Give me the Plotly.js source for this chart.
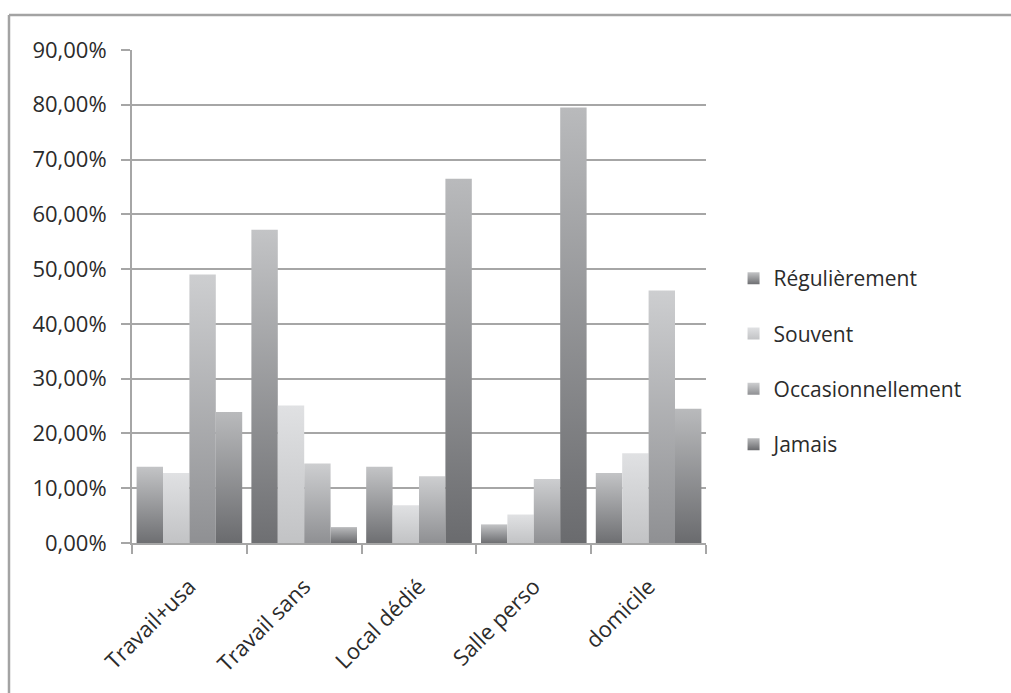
<!DOCTYPE html>
<html>
<head>
<meta charset="utf-8">
<script src="https://cdn.plot.ly/plotly-3.0.1.min.js"></script>
<style>
html,body{margin:0;padding:0;background:#fff;}
#chart{width:1011px;height:693px;}
</style>
</head>
<body>
<div id="chart"></div>
<script>
const categories = ["Travail+usa", "Travail sans", "Local dédié", "Salle perso", "domicile"];
const seriesNames = ["Régulièrement", "Souvent", "Occasionnellement", "Jamais"];
const regulierement = [0.139, 0.572, 0.139, 0.034, 0.128];
const souvent = [0.128, 0.251, 0.069, 0.052, 0.164];
const occasionnellement = [0.490, 0.145, 0.122, 0.117, 0.461];
const jamais = [0.239, 0.029, 0.665, 0.795, 0.245];
const yTicks = [0, 0.1, 0.2, 0.3, 0.4, 0.5, 0.6, 0.7, 0.8, 0.9];
const yTickLabels = ["0,00%", "10,00%", "20,00%", "30,00%", "40,00%", "50,00%", "60,00%", "70,00%", "80,00%", "90,00%"];

const values = [regulierement, souvent, occasionnellement, jamais];
const baseColors = ["#9a9b9e", "#d0d1d3", "#b0b1b4", "#939497"];
const gradients = [
  ["#c3c4c6", "#6e6f72"],
  ["#e0e1e3", "#c2c3c5"],
  ["#cdced0", "#8f9093"],
  ["#b9babc", "#6a6b6e"]
];

const traces = values.map((v, i) => ({
  type: "bar",
  name: seriesNames[i],
  x: categories,
  y: v,
  legendgroup: "g" + i,
  marker: {color: baseColors[i], line: {width: 0}}
}));

const fontFam = "'Open Sans', 'Noto Sans', sans-serif";
const txtColor = "#2b2b2b";
const layout = {
  width: 1011,
  height: 693,
  margin: {l: 132, r: 305, t: 50, b: 150},
  paper_bgcolor: "#ffffff",
  plot_bgcolor: "#ffffff",
  barmode: "group",
  bargap: 0.08,
  bargroupgap: 0,
  showlegend: true,
  legend: {
    x: 1.048, xanchor: "left",
    y: 0.368, yanchor: "middle",
    font: {family: fontFam, size: 21, color: txtColor},
    tracegroupgap: 25,
    itemwidth: 30,
    bgcolor: "rgba(0,0,0,0)"
  },
  xaxis: {
    type: "category",
    showgrid: false,
    showline: true,
    linecolor: "#a6a6a6",
    linewidth: 2,
    ticks: "outside",
    tickson: "boundaries",
    ticklen: 9,
    tickwidth: 2,
    tickcolor: "#a6a6a6",
    tickangle: -45,
    ticklabelstandoff: 20,
    tickfont: {family: fontFam, size: 22, color: txtColor},
    zeroline: false
  },
  yaxis: {
    range: [0, 0.9],
    tickvals: yTicks,
    ticktext: yTickLabels,
    showgrid: true,
    gridcolor: "#a6a6a6",
    gridwidth: 2,
    showline: true,
    linecolor: "#a6a6a6",
    linewidth: 2,
    ticks: "outside",
    ticklen: 9,
    tickwidth: 2,
    tickcolor: "#a6a6a6",
    ticklabelstandoff: 10,
    tickfont: {family: fontFam, size: 22, color: txtColor},
    zeroline: false
  },
  shapes: [
    {type: "line", xref: "paper", yref: "paper", x0: -0.2143, x1: 1.54, y0: 1.071, y1: 1.071, line: {color: "#a3a3a3", width: 2.5}},
    {type: "line", xref: "paper", yref: "paper", x0: -0.2143, x1: -0.2143, y0: 1.071, y1: -0.31, line: {color: "#a3a3a3", width: 2.5}}
  ]
};

Plotly.newPlot("chart", traces, layout, {displayModeBar: false, staticPlot: true}).then(gd => {
  const svg = gd.querySelector("svg.main-svg");
  let defs = svg.querySelector("defs");
  const ns = "http://www.w3.org/2000/svg";
  gradients.forEach((g, i) => {
    const lg = document.createElementNS(ns, "linearGradient");
    lg.setAttribute("id", "bargrad" + i);
    lg.setAttribute("x1", "0"); lg.setAttribute("y1", "0");
    lg.setAttribute("x2", "0"); lg.setAttribute("y2", "1");
    [[0, g[0]], [1, g[1]]].forEach(([o, c]) => {
      const st = document.createElementNS(ns, "stop");
      st.setAttribute("offset", o);
      st.setAttribute("stop-color", c);
      lg.appendChild(st);
    });
    defs.appendChild(lg);
  });
  gd.querySelectorAll(".barlayer .trace").forEach((tr, i) => {
    tr.querySelectorAll("path").forEach(p => { p.style.fill = "url(#bargrad" + i + ")"; });
  });
  gd.querySelectorAll(".legend .traces").forEach((tr, i) => {
    tr.querySelectorAll(".legendpoints path").forEach(p => { p.style.fill = "url(#bargrad" + i + ")"; });
  });
});
</script>
</body>
</html>
